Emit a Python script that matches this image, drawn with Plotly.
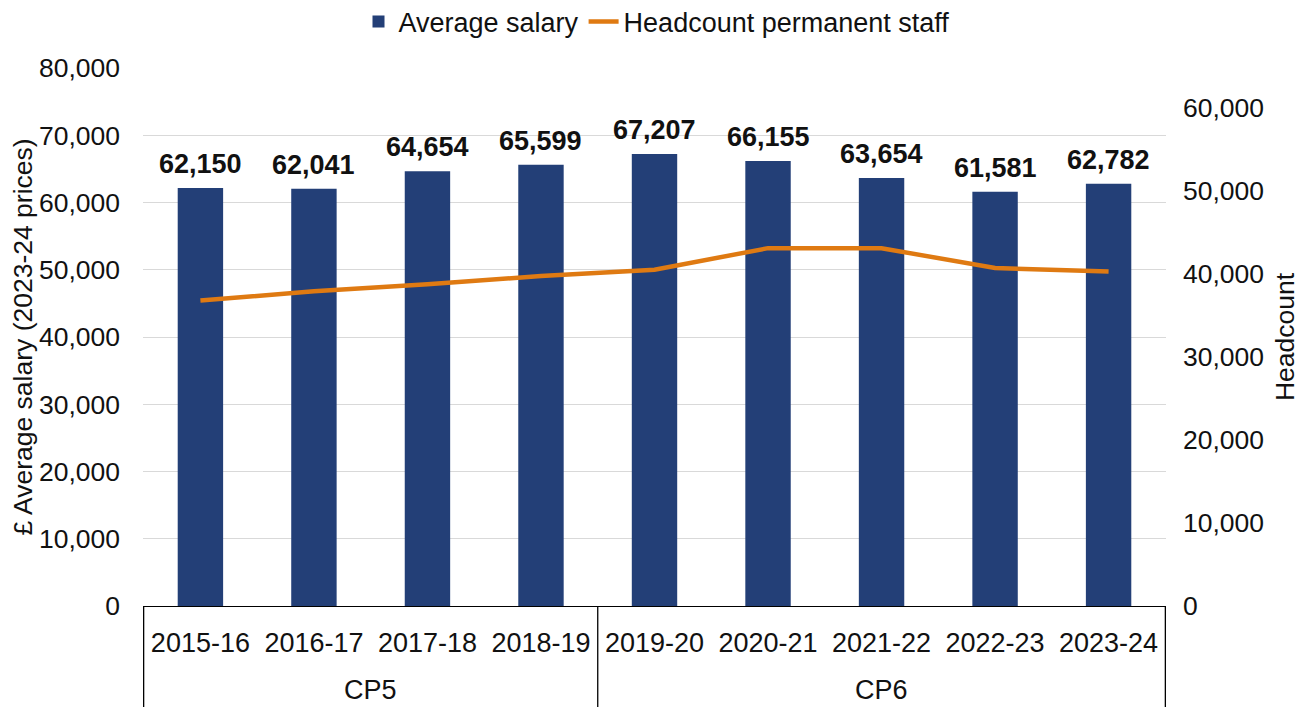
import plotly.graph_objects as go

years = ["2015-16", "2016-17", "2017-18", "2018-19", "2019-20",
         "2020-21", "2021-22", "2022-23", "2023-24"]
periods = ["CP5", "CP5", "CP5", "CP5", "CP6", "CP6", "CP6", "CP6", "CP6"]
salary = [62150, 62041, 64654, 65599, 67207, 66155, 63654, 61581, 62782]
headcount = [36800, 37900, 38750, 39750, 40500, 43100, 43100, 40700, 40300]

BAR = "#233F77"
LINE = "#DF7A12"
FONT = "Liberation Sans, Arial, sans-serif"
TXT = "#111111"
FS = 27
FSY = 26.5

# page body has an 8px offset; compensate
OFF = 8
W, H = 1305 - OFF, 707 - OFF
L, R, T, B = 143 - OFF, 139, 68 - OFF, 101
plot_h = H - T - B

fig = go.Figure()
fig.add_trace(go.Bar(x=years, y=salary, name="Average salary",
                     marker=dict(color=BAR, line=dict(width=0)), width=0.4,
                     yaxis="y"))
fig.add_trace(go.Scatter(x=years, y=headcount, name="Headcount permanent staff",
                         mode="lines", line=dict(color=LINE, width=4.5),
                         yaxis="y2"))

# data labels
for yr, v in zip(years, salary):
    fig.add_annotation(x=yr, y=v, xref="x", yref="y", text=f"<b>{v:,}</b>",
                       showarrow=False, yanchor="bottom", yshift=7,
                       font=dict(family=FONT, size=FS, color=TXT))

# group labels and dividers
groups = []
for i, p in enumerate(periods):
    if not groups or groups[-1][0] != p:
        groups.append([p, i, i])
    else:
        groups[-1][2] = i
bounds = sorted({g[1] - 0.5 for g in groups} | {g[2] + 0.5 for g in groups})
for b in bounds:
    fig.add_shape(type="line", xref="x", yref="paper", x0=b, x1=b,
                  y0=0, y1=-(B + 5) / plot_h,
                  line=dict(color="black", width=1.3))
for name, i0, i1 in groups:
    fig.add_annotation(x=(i0 + i1) / 2, y=-84 / plot_h,
                       xref="x", yref="paper", text=name, showarrow=False,
                       yanchor="middle",
                       font=dict(family=FONT, size=FS, color=TXT))

fig.update_layout(
    width=W, height=H,
    margin=dict(l=L, r=R, t=T, b=B),
    paper_bgcolor="white", plot_bgcolor="white",
    font=dict(family=FONT, size=FS, color=TXT),
    showlegend=True,
    legend=dict(orientation="h", x=0.5, xanchor="center", xref="container",
                yref="container", y=1 - 14 / H, yanchor="middle",
                font=dict(family=FONT, size=FS, color=TXT),
                itemwidth=30, tracegroupgap=0, bgcolor="rgba(0,0,0,0)"),
    xaxis=dict(type="category", showline=True, linecolor="black", linewidth=1.3,
               showgrid=False, ticks="", ticklabelstandoff=12,
               tickfont=dict(family=FONT, size=FS, color=TXT),
               automargin=False),
    yaxis=dict(range=[0, 80000], dtick=10000, tickformat=",",
               showgrid=True, gridcolor="#D9D9D9", gridwidth=1.3,
               zeroline=False, showline=False, ticks="",
               ticklabelstandoff=22,
               title=dict(text="£ Average salary (2023-24 prices)", standoff=0,
                          font=dict(family=FONT, size=FSY, color=TXT)),
               tickfont=dict(family=FONT, size=FSY, color=TXT),
               automargin=False),
    yaxis2=dict(range=[0, 64800], tickvals=[0, 10000, 20000, 30000, 40000, 50000, 60000],
                tickformat=",", overlaying="y", side="right",
                showgrid=False, zeroline=False, showline=False, ticks="",
                ticklabelstandoff=16,
                title=dict(text="Headcount", standoff=12,
                           font=dict(family=FONT, size=FSY, color=TXT)),
                tickfont=dict(family=FONT, size=FSY, color=TXT),
                automargin=False),
)

fig.write_html("out.html")
